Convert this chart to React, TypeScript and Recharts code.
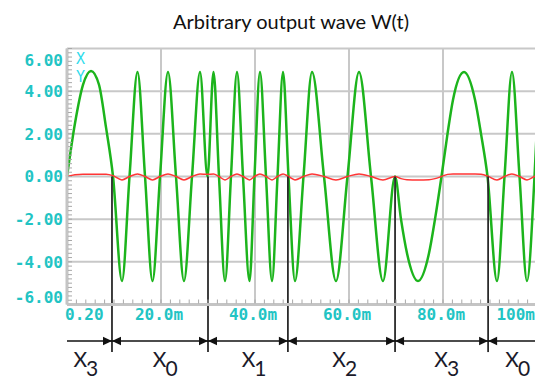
import {
  CartesianGrid,
  Legend,
  Line,
  LineChart,
  ReferenceDot,
  ReferenceLine,
  XAxis,
  YAxis,
} from "recharts"

// time in ms
const timeMs = [
  0, 1.7, 3.4, 5.11, 6.81, 8.3, 9.79, 11.7, 13.3, 15.0, 16.6, 18.19, 19.79, 21.49, 23.19, 24.89,
  26.6, 28.3, 29.89, 31.17, 32.34, 33.62, 34.89, 36.17, 37.45, 38.83, 39.89, 41.06, 42.34, 43.62,
  44.79, 45.96, 47.13, 48.51, 50.32, 52.13, 54.68, 57.23, 59.68, 62.13, 64.68, 67.23, 69.79, 71.06,
  72.34, 74.68, 77.02, 78.3, 79.68, 80.96, 82.13, 84.47, 86.81, 88.09, 89.47, 91.49, 93.09, 94.68,
  96.28, 97.87, 99.47, 100,
]
// green trace (Y)
const waveY = [
  0, 2.5, 4.3, 4.95, 4.3, 2.3, 0, -4.9, 0, 4.9, 0, -4.9, 0, 4.9, 0, -4.9,
  0, 4.9, 0, 4.9, 0, -4.9, 0, 4.9, 0, -4.9, 0, 4.9, 0, -4.9,
  0, 4.9, 0, -4.9, 0, 4.9, 0, -4.9, 0, 4.9, 0, -4.9, 0, -2.0,
  -3.6, -4.9, -3.6, -2.0, 0, 2.0, 3.6, 4.9, 3.6, 2.0, 0, -4.9, 0, 4.9,
  0, -4.9, 0, 2.4,
]
// red trace (X)
const waveX = [
  0, 0.08, 0.11, 0.11, 0.11, 0.11, 0.04, -0.16, 0, 0.12, 0, -0.16, 0, 0.12, 0, -0.16,
  0, 0.12, 0.1, 0.12, 0, -0.16, 0, 0.12, 0, -0.16, 0, 0.12, 0, -0.16,
  0, 0.12, 0, -0.16, 0, 0.12, 0, -0.16, 0, 0.12, 0, -0.16, 0, -0.1,
  -0.15, -0.16, -0.15, -0.1, 0, 0.1, 0.12, 0.12, 0.12, 0.1, 0.02, -0.16, 0, 0.12,
  0, -0.16, 0, 0.05,
]

const xTicks = [0, 20, 40, 60, 80, 100]
const xTickLabels = ["0.20", "20.0m", "40.0m", "60.0m", "80.0m", "100m"]
const yTicks = [-6, -4, -2, 0, 2, 4, 6]
const yTickLabels = ["-6.00", "-4.00", "-2.00", "0.00", "2.00", "4.00", "6.00"]

// segment boundaries (ms) and the segment names under the axis
const segmentBounds = [9.57, 30.0, 47.0, 69.8, 89.6]
const segmentNames = ["3", "0", "1", "2", "3", "0"]
const segmentLabelAt = [4.0, 20.9, 39.8, 59.1, 80.8, 95.9]

const data = timeMs.map((t, i) => ({ t, Y: waveY[i], X: waveX[i] }))

// minor tick marks: every 2 ms and every 0.2 units
const minorX = Array.from({ length: 50 }, (_, i) => (i + 1) * 2)
const minorY = Array.from({ length: 60 }, (_, i) => Math.round((-5.8 + i * 0.2) * 10) / 10)

const tickFont = "'DejaVu Sans Mono', monospace"
const cyan = "#22c4c4"

// annotation levels below the plot, in y units
const ARROW_Y = -7.71
const BOUND_END_Y = -8.23
const LABEL_Y = -8.93

function XTick({ x, y, payload }: any) {
  const i = xTicks.indexOf(payload.value)
  const first = i === 0
  const last = i === xTicks.length - 1
  return (
    <text
      x={last ? 535 : x - 2}
      y={y + 10}
      dy="0.36em"
      textAnchor={first ? "start" : last ? "end" : "middle"}
      fontFamily={tickFont}
      fontWeight="bold"
      fontSize={16}
      fill={cyan}
    >
      {xTickLabels[i]}
    </text>
  )
}

function YTick({ x, y, payload }: any) {
  const i = yTicks.indexOf(payload.value)
  const shift = payload.value === 6 ? 11.5 : payload.value === -6 ? -7.5 : 0
  return (
    <text
      x={x}
      y={y + shift}
      dy="0.36em"
      textAnchor="end"
      fontFamily={tickFont}
      fontWeight="bold"
      fontSize={16}
      fill={cyan}
    >
      {yTickLabels[i]}
    </text>
  )
}

function ChannelNames({ payload }: any) {
  const names = (payload || []).map((p: any) => p.value).sort()
  return (
    <div style={{ fontFamily: tickFont, fontSize: 15, lineHeight: "17.5px", color: "#30dcec" }}>
      {names.map((n: string) => (
        <div key={n}>{n}</div>
      ))}
    </div>
  )
}

const minorTickUp = (p: any) => (
  <line x1={p.cx} x2={p.cx} y1={p.cy - 1} y2={p.cy - 5} stroke="#a8a8a8" strokeWidth={1} />
)
const minorTickRight = (p: any) => (
  <line x1={p.cx + 1} x2={p.cx + 5} y1={p.cy} y2={p.cy} stroke="#a8a8a8" strokeWidth={1} />
)

const arrows = (p: any) => (
  <g fill="#111">
    <polygon points={`${p.cx - 9},${p.cy - 4.2} ${p.cx},${p.cy} ${p.cx - 9},${p.cy + 4.2}`} />
    <polygon points={`${p.cx + 9},${p.cy - 4.2} ${p.cx},${p.cy} ${p.cx + 9},${p.cy + 4.2}`} />
  </g>
)

export default function App() {
  return (
    <div
      style={{
        position: "absolute",
        left: 0,
        top: 0,
        width: 535,
        height: 379,
        overflow: "hidden",
        background: "#fff",
      }}
    >
      <div
        style={{
          position: "absolute",
          left: 173,
          top: 9,
          fontFamily: "Lato, sans-serif",
          fontSize: 20,
          color: "#111",
          whiteSpace: "nowrap",
        }}
      >
        Arbitrary output wave W(t)
      </div>
      <LineChart
        width={545}
        height={379}
        data={data}
        margin={{ top: 48.5, right: 8, bottom: 44.5, left: 7 }}
      >
        <CartesianGrid stroke="#c8c8c8" strokeWidth={2} />
        <XAxis
          dataKey="t"
          type="number"
          domain={[0, 100]}
          ticks={xTicks}
          interval={0}
          height={30}
          tickSize={0}
          tickMargin={0}
          tickLine={false}
          axisLine={{ stroke: "#c4c4c4", strokeWidth: 3 }}
          tick={<XTick />}
        />
        <YAxis
          type="number"
          domain={[-6, 6]}
          ticks={yTicks}
          interval={0}
          width={60}
          tickSize={0}
          tickMargin={4}
          tickLine={false}
          axisLine={{ stroke: "#c4c4c4", strokeWidth: 3 }}
          tick={<YTick />}
        />
        {minorX.map((t) => (
          <ReferenceDot key={`mx${t}`} x={t} y={-6} r={0} ifOverflow="visible" shape={minorTickUp} />
        ))}
        {minorY.map((v) => (
          <ReferenceDot key={`my${v}`} x={0} y={v} r={0} ifOverflow="visible" shape={minorTickRight} />
        ))}
        <Legend
          layout="vertical"
          align="center"
          verticalAlign="middle"
          wrapperStyle={{ left: 76, top: 51, width: 20 }}
          content={<ChannelNames />}
        />
        <Line
          dataKey="Y"
          name="Y"
          type="monotone"
          stroke="#1cb41c"
          strokeWidth={2.5}
          dot={false}
          isAnimationActive={false}
        />
        <Line
          dataKey="X"
          name="X"
          type="monotone"
          stroke="#ff3535"
          strokeWidth={1.5}
          dot={false}
          isAnimationActive={false}
        />
        {segmentBounds.map((b) => (
          <ReferenceLine
            key={`b${b}`}
            segment={[
              { x: b, y: 0 },
              { x: b, y: BOUND_END_Y },
            ]}
            ifOverflow="visible"
            stroke="#2a2a2a"
            strokeWidth={1.8}
          />
        ))}
        <ReferenceLine y={ARROW_Y} ifOverflow="visible" stroke="#111" strokeWidth={1.5} />
        {segmentBounds.map((b) => (
          <ReferenceDot key={`a${b}`} x={b} y={ARROW_Y} r={0} ifOverflow="visible" shape={arrows} />
        ))}
        {segmentNames.map((n, i) => (
          <ReferenceDot
            key={`l${i}`}
            x={segmentLabelAt[i]}
            y={LABEL_Y}
            r={0}
            ifOverflow="visible"
            shape={(p: any) => (
              <text
                x={p.cx}
                y={p.cy}
                textAnchor="middle"
                fontFamily="Lato, sans-serif"
                fontSize={21}
                fill="#1a1a2a"
              >
                X
                <tspan dy={9} dx={-1}>
                  {n}
                </tspan>
              </text>
            )}
          />
        ))}
      </LineChart>
    </div>
  )
}
